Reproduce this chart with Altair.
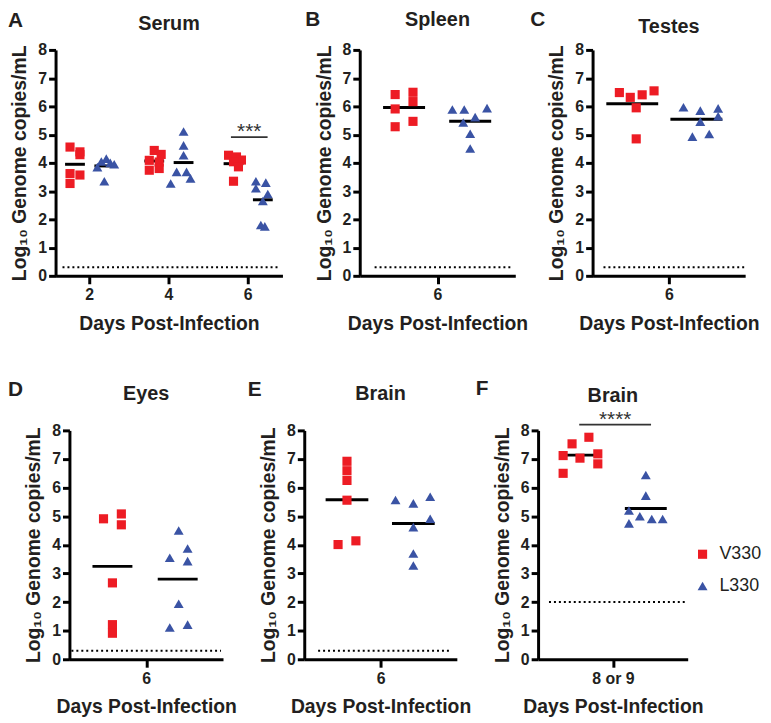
import altair as alt
import pandas as pd

GROUPS = ["V330", "L330"]
COLORS = ["#ED1C24", "#3A53A4"]
SHAPES = ["square", "triangle-up"]
YTITLE = "Log₁₀ Genome copies/mL"
XTITLE = "Days Post-Infection"
FONT = "Liberation Sans"
INK = "#231f20"

# ---------------- data (log10 genome copies/mL) ----------------
# Panel A - Serum, days 2, 4, 6
serum_days = [2, 4, 6]
serum_v330 = [[4.56, 4.39, 4.29, 3.62, 3.57, 3.27],
              [4.44, 4.30, 4.09, 4.03, 3.80, 3.74],
              [4.27, 4.21, 4.10, 4.04, 3.86, 3.35]]
serum_v330_lane = [[-0.5, 0.5, 0.5, -0.5, 0.5, -0.5],
                   [0, 0.7, -0.5, 0.5, 0.5, -0.5],
                   [-0.5, 0.3, 0.8, 0, 0.5, 0]]
serum_l330 = [[4.15, 4.05, 4.00, 3.95, 3.85, 3.35],
              [5.11, 4.62, 4.27, 3.68, 3.68, 3.45, 3.27],
              [3.35, 3.30, 3.10, 2.90, 2.65, 1.80, 1.75]]
serum_l330_lane = [[0.2, -0.3, 0.6, 1.0, -0.7, 0],
                   [0, 0, 0, -0.7, 0.3, 0.7, -1.3],
                   [-0.7, 0.3, -0.7, 0.5, 0, -0.2, 0.2]]

# Panel B - Spleen, day 6
spleen_v330 = [6.42, 5.91, 5.28, 6.50, 6.17, 5.47]
spleen_v330_lane = [-0.9, -0.9, -0.9, 0.9, 0.9, 0.9]
spleen_l330 = [5.89, 5.89, 5.94, 5.62, 5.43, 5.03, 4.51]
spleen_l330_lane = [-1.8, -0.6, 1.7, 0.5, -0.7, 0, 0]

# Panel C - Testes, day 6
testes_v330 = [6.49, 6.32, 6.41, 6.55, 5.95, 4.85]
testes_v330_lane = [-1.3, -0.2, 1.0, 2.2, 0.4, 0.4]
testes_l330 = [5.97, 5.85, 5.93, 5.46, 5.65, 4.93, 5.02]
testes_l330_lane = [-1.3, 0.4, 2.2, 0.4, 2.2, -0.4, 1.3]

# Panel D - Eyes, day 6
eyes_v330 = [4.91, 5.08, 4.70, 2.67, 1.21, 0.91]
eyes_v330_lane = [-0.9, 0.9, 0.9, 0, 0, 0]
eyes_l330 = [4.50, 3.55, 3.87, 3.43, 1.94, 1.11, 1.21]
eyes_l330_lane = [0.1, -0.8, 1.0, 1.0, 0.1, -0.8, 1.0]

# Panel E - Brain, day 6
brain6_v330 = [6.92, 6.59, 6.25, 5.56, 4.01, 4.14]
brain6_v330_lane = [0, 0, 0, 0, -0.9, 0.9]
brain6_l330 = [5.57, 5.45, 5.68, 4.91, 4.62, 3.70, 3.28]
brain6_l330_lane = [-1.8, 0, 1.7, 1.7, 0, 0, 0]

# Panel F - Brain, day 8 or 9
brain89_v330 = [7.53, 7.76, 7.12, 7.03, 7.18, 6.83, 6.50]
brain89_v330_lane = [-0.8, 0.9, -1.7, 0, 1.8, 1.8, -1.7]
brain89_l330 = [6.44, 5.72, 5.20, 5.00, 4.90, 4.90, 4.75]
brain89_l330_lane = [0, 0, -1.7, -0.6, 0.6, 1.7, -1.7]

# limits of detection and significance marks
lod_values = {"A": 0.3, "B": 0.3, "C": 0.3, "D": 0.3, "E": 0.3, "F": 2.0}
sig_A = {"x1": 5.575, "x2": 6.5, "y": 4.91, "label": "***"}
sig_F = {"x1": -0.45, "x2": 0.51, "y": 8.2, "label": "****"}

panels = {
    "A": dict(title="Serum", w=229, h=228, xdom=[1.15, 6.875], slots=serum_days,
              ticks=serum_days, labelExpr=None,
              vals={"V330": serum_v330, "L330": serum_l330},
              lanes={"V330": serum_v330_lane, "L330": serum_l330_lane},
              goff=(-0.36, 0.38), hw=0.25, lod_x=(7, 227), sig=sig_A,
              letter_x=-48, letter_y=-23, title_y=-20),
    "B": dict(title="Spleen", w=157, h=228, xdom=[-1, 1], slots=[0], ticks=[0], labelExpr="'6'",
              vals={"V330": [spleen_v330], "L330": [spleen_l330]},
              lanes={"V330": [spleen_v330_lane], "L330": [spleen_l330_lane]},
              goff=(-0.43, 0.42), hw=0.27, lod_x=(15, 155), sig=None,
              letter_x=-55, letter_y=-24, title_y=-24),
    "C": dict(title="Testes", w=154, h=228, xdom=[-1, 1], slots=[0], ticks=[0], labelExpr="'6'",
              vals={"V330": [testes_v330], "L330": [testes_l330]},
              lanes={"V330": [testes_v330_lane], "L330": [testes_l330_lane]},
              goff=(-0.48, 0.36), hw=0.34, lod_x=(11, 154), sig=None,
              letter_x=-63, letter_y=-24, title_y=-17),
    "D": dict(title="Eyes", w=155, h=231, xdom=[-1, 1], slots=[0], ticks=[0], labelExpr="'6'",
              vals={"V330": [eyes_v330], "L330": [eyes_l330]},
              lanes={"V330": [eyes_v330_lane], "L330": [eyes_l330_lane]},
              goff=(-0.44, 0.41), hw=0.26, lod_x=(2, 153), sig=None,
              letter_x=-62, letter_y=-35, title_y=-31),
    "E": dict(title="Brain", w=154, h=231, xdom=[-1, 1], slots=[0], ticks=[0], labelExpr="'6'",
              vals={"V330": [brain6_v330], "L330": [brain6_l330]},
              lanes={"V330": [brain6_v330_lane], "L330": [brain6_l330_lane]},
              goff=(-0.44, 0.43), hw=0.28, lod_x=(14, 147), sig=None,
              letter_x=-57, letter_y=-35, title_y=-31),
    "F": dict(title="Brain", w=151, h=231, xdom=[-1, 1], slots=[0], ticks=[0], labelExpr="'8 or 9'",
              vals={"V330": [brain89_v330], "L330": [brain89_l330]},
              lanes={"V330": [brain89_v330_lane], "L330": [brain89_l330_lane]},
              goff=(-0.44, 0.44), hw=0.28, lod_x=(11, 151), sig=sig_F,
              letter_x=-63, letter_y=-36, title_y=-29),
}

AXIS_COMMON = dict(grid=False, labelFont=FONT, labelFontSize=16, labelFontWeight="bold",
                   labelColor=INK, titleFont=FONT, titleFontSize=19.5, titleFontWeight="bold",
                   titleColor=INK, domainColor="black", domainWidth=3, tickColor="black",
                   tickWidth=3)

RESOLVE = dict(color="independent", shape="independent", size="independent")


def make_panel(key, legend=False):
    p = panels[key]
    w, h = p["w"], p["h"]
    step = 10.0 / (w / (p["xdom"][1] - p["xdom"][0]))  # one lane ~ 10 px
    rows = []
    for gi, g in enumerate(GROUPS):
        for si, slot in enumerate(p["slots"]):
            for v, ln in zip(p["vals"][g][si], p["lanes"][g][si]):
                rows.append(dict(group=g, slot=slot, value=v,
                                 x=slot + p["goff"][gi] + ln * step))
    pts = pd.DataFrame(rows)
    means = pts.groupby(["slot", "group"], as_index=False)["value"].mean()
    off = {g: p["goff"][i] for i, g in enumerate(GROUPS)}
    means["c"] = means["slot"] + means["group"].map(off)
    means["x1"] = means["c"] - p["hw"]
    means["x2"] = means["c"] + p["hw"]

    xs = alt.Scale(domain=p["xdom"], nice=False, zero=False)
    ys = alt.Scale(domain=[0, 8], nice=False, zero=False)
    xaxis_kw = dict(values=p["ticks"], title=XTITLE, format="d", tickSize=8,
                    labelPadding=3, titlePadding=12, labelAngle=0, **AXIS_COMMON)
    if p["labelExpr"]:
        xaxis_kw["labelExpr"] = p["labelExpr"]
    xaxis = alt.Axis(**xaxis_kw)
    yaxis = alt.Axis(values=list(range(9)), title=YTITLE, format="d", tickSize=7,
                     labelPadding=2, titlePadding=8, **AXIS_COMMON)

    if legend:
        leg = alt.Legend(title=None, orient="none", legendX=157, legendY=116,
                         symbolSize=90, labelFontSize=18, labelFont=FONT,
                         labelFontWeight="normal", labelColor=INK, rowPadding=14,
                         labelOffset=8, symbolStrokeWidth=0, symbolOpacity=1,
                         padding=0)
    else:
        leg = None

    lod = alt.Chart(pd.DataFrame({"lod": [lod_values[key]]})).mark_rule(
        color="black", strokeWidth=2, strokeDash=[2, 3]
    ).encode(y=alt.Y("lod:Q", scale=ys, axis=yaxis),
             x=alt.value(p["lod_x"][0]), x2=alt.value(p["lod_x"][1]))

    mean_rules = alt.Chart(means).mark_rule(color="black", strokeWidth=3).encode(
        x=alt.X("x1:Q", scale=xs, axis=xaxis), x2="x2:Q",
        y=alt.Y("value:Q", scale=ys, axis=yaxis))

    points = alt.Chart(pts).mark_point(filled=True, opacity=1, strokeWidth=0).encode(
        x=alt.X("x:Q", scale=xs, axis=xaxis),
        y=alt.Y("value:Q", scale=ys, axis=yaxis),
        color=alt.Color("group:N", scale=alt.Scale(domain=GROUPS, range=COLORS), legend=leg),
        shape=alt.Shape("group:N", scale=alt.Scale(domain=GROUPS, range=SHAPES), legend=leg),
        size=alt.Size("group:N", scale=alt.Scale(domain=GROUPS, range=[85, 100]), legend=None),
    )

    letter = alt.Chart(pd.DataFrame({"t": [key]})).mark_text(
        font=FONT, fontSize=21, fontWeight="bold", color=INK, align="left",
        baseline="alphabetic"
    ).encode(text="t:N", x=alt.value(p["letter_x"]), y=alt.value(p["letter_y"]))

    title = alt.Chart(pd.DataFrame({"t": [p["title"]]})).mark_text(
        font=FONT, fontSize=20, fontWeight="bold", color=INK, align="center",
        baseline="alphabetic"
    ).encode(text="t:N", x=alt.value(w / 2), y=alt.value(p["title_y"]))

    layers = [lod, mean_rules, points, letter, title]

    if p["sig"]:
        s = p["sig"]
        sdf = pd.DataFrame([dict(x1=s["x1"], x2=s["x2"], y=s["y"],
                                 xm=(s["x1"] + s["x2"]) / 2, label=s["label"])])
        srule = alt.Chart(sdf).mark_rule(color="#333333", strokeWidth=1.8).encode(
            x=alt.X("x1:Q", scale=xs, axis=xaxis), x2="x2:Q",
            y=alt.Y("y:Q", scale=ys, axis=yaxis))
        stext = alt.Chart(sdf).mark_text(
            font=FONT, fontSize=21, color="#333333", align="center", baseline="alphabetic", dy=1
        ).encode(x=alt.X("xm:Q", scale=xs, axis=xaxis),
                 y=alt.Y("y:Q", scale=ys, axis=yaxis), text="label:N")
        layers += [srule, stext]

    return alt.layer(*layers).properties(width=w, height=h)


# invisible 1-px spacer that shifts the second row 14 px to the right
spacer = alt.Chart(pd.DataFrame({"s": [0]})).mark_point(opacity=0).properties(width=1, height=1)

row1 = alt.hconcat(make_panel("A"), make_panel("B"), make_panel("C"),
                   spacing=78, bounds="flush").resolve_scale(**RESOLVE)
row2_inner = alt.hconcat(make_panel("D"), make_panel("E"), make_panel("F", legend=True),
                         spacing=82, bounds="flush").resolve_scale(**RESOLVE)
row2 = alt.hconcat(spacer, row2_inner, spacing=13, bounds="flush").resolve_scale(**RESOLVE)

chart = alt.vconcat(
    row1, row2, spacing=45,
    autosize=alt.AutoSizeParams(type="none"),
    padding={"left": 48, "top": 39, "right": 714, "bottom": 675},
).resolve_scale(**RESOLVE).configure_view(stroke=None)

chart.save("out.html", embed_options={"renderer": "svg", "actions": False})
